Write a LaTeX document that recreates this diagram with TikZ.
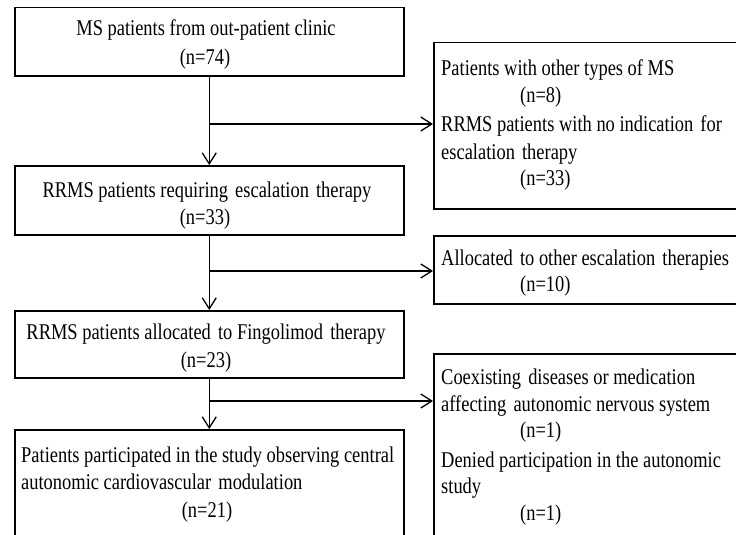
\documentclass[tikz,border=0pt]{standalone}
\usepackage{fontspec}
\setmainfont{Liberation Serif}[FakeStretch=0.82]
\usetikzlibrary{arrows.meta}
\newcommand{\xs}{\hspace{2.5pt}}
\begin{document}
\begin{tikzpicture}[x=1pt,y=-1pt,
  box/.style={draw, line width=1.5pt, inner sep=0pt, anchor=north west},
  txt/.style={inner sep=0pt, font=\fontsize{22.5}{27}\selectfont},
  conn/.style={line width=1.3pt, -{Straight Barb[length=11pt,width=14pt,line width=1.3pt]}}]
\useasboundingbox (0,0) rectangle (736,535);
\fill[white] (0,0) rectangle (736,535);
\clip (0,0) rectangle (736,535);
% left column boxes
\node[box, minimum width=389pt, minimum height=68pt] (b1) at (14,7) {};
\node[box, minimum width=389pt, minimum height=69pt] (b2) at (14,165) {};
\node[box, minimum width=389pt, minimum height=67pt] (b3) at (14,310) {};
\node[box, minimum width=389pt, minimum height=130pt] (b4) at (14,429) {};
% right column boxes
\node[box, minimum width=330pt, minimum height=166pt] (r1) at (433,42) {};
\node[box, minimum width=330pt, minimum height=68pt] (r2) at (433,235) {};
\node[box, minimum width=330pt, minimum height=200pt] (r3) at (433,353) {};
% junctions
\coordinate (j1) at (208.5,124);
\coordinate (j2) at (208.5,271);
\coordinate (j3) at (208.5,401);
% connectors
\draw[conn] (b1.south) -- (b2.north);
\draw[conn] (b2.south) -- (b3.north);
\draw[conn] (b3.south) -- (b4.north);
\draw[conn] (j1) -- (j1 -| r1.west);
\draw[conn] (j2) -- (j2 -| r2.west);
\draw[conn] (j3) -- (j3 -| r3.west);
% left texts
\node[txt, anchor=base] (t1a) at (206,36) {MS patients from out-patient clinic};
\node[txt, anchor=base] (t1b) at (205,64) {(n=74)};
\node[txt, anchor=base] (t2a) at (207,197) {RRMS patients requiring\xs{} escalation\xs{} therapy};
\node[txt, anchor=base] (t2b) at (205,224) {(n=33)};
\node[txt, anchor=base] (t3a) at (206,339) {RRMS patients allocated\xs{} to Fingolimod\xs{} therapy};
\node[txt, anchor=base] (t3b) at (206,367) {(n=23)};
\node[txt, anchor=base west] (t4a) at (21,462) {Patients participated in the study observing central};
\node[txt, anchor=base west] (t4b) at (21,489) {autonomic cardiovascular\xs{} modulation};
\node[txt, anchor=base] (t4c) at (207,517) {(n=21)};
% right texts
\node[txt, anchor=base west] (s1a) at (441,75) {Patients with other types of MS};
\node[txt, anchor=base west] (s1b) at (520,102) {(n=8)};
\node[txt, anchor=base west] (s1c) at (441,131) {RRMS patients with no indication\xs{} for};
\node[txt, anchor=base west] (s1d) at (441,159) {escalation\xs{} therapy};
\node[txt, anchor=base west] (s1e) at (520,185) {(n=33)};
\node[txt, anchor=base west] (s2a) at (441,265) {Allocated\xs{} to other escalation\xs{} therapies};
\node[txt, anchor=base west] (s2b) at (520,291) {(n=10)};
\node[txt, anchor=base west] (s3a) at (441,384) {Coexisting\xs{} diseases or medication};
\node[txt, anchor=base west] (s3b) at (441,411) {affecting\xs{} autonomic nervous system};
\node[txt, anchor=base west] (s3c) at (520,437) {(n=1)};
\node[txt, anchor=base west] (s3d) at (441,467) {Denied participation in the autonomic};
\node[txt, anchor=base west] (s3e) at (441,493) {study};
\node[txt, anchor=base west] (s3f) at (520,520) {(n=1)};
\end{tikzpicture}
\end{document}
